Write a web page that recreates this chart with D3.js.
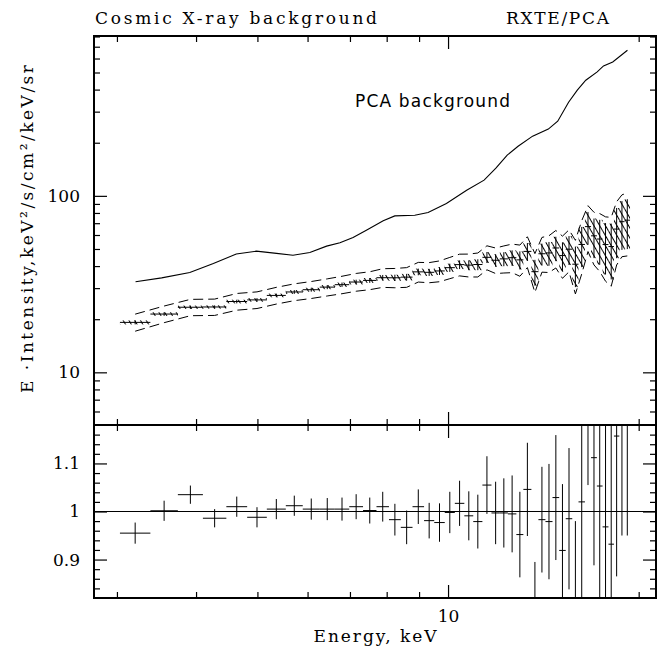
<!DOCTYPE html>
<html>
<head>
<meta charset="utf-8">
<script src="https://cdn.jsdelivr.net/npm/d3@7/dist/d3.min.js"></script>
<style>
	body { margin: 0; background: #fff; }
	text { font-family: "DejaVu Serif", "Liberation Serif", serif; fill: #000; }
</style>
</head>
<body>
<svg id="chart" width="669" height="652"></svg>
<script>
// energy bin boundaries, keV
var binEdges = [3.033, 3.388, 3.744, 4.101, 4.466, 4.817, 5.174, 5.544, 5.896, 6.272,
	6.624, 6.982, 7.341, 7.709, 8.067, 8.421, 8.788, 9.165, 9.511, 9.881,
	10.25, 10.61, 10.96, 11.33, 11.71, 12.07, 12.43, 12.82, 13.15, 13.54,
	13.89, 14.25, 14.62, 14.98, 15.34, 15.71, 16.07, 16.45, 16.82, 17.18,
	17.54, 17.92, 18.28, 18.64, 19.00, 19.38];

// E*Intensity, keV^2/s/cm^2/keV/sr, and its error
var intensity = [19.19, 21.39, 23.38, 23.46, 25.19, 25.73, 27.28, 28.54, 29.39, 30.40,
	31.38, 32.49, 33.18, 34.37, 34.34, 34.63, 37.09, 36.87, 37.54, 39.18,
	40.77, 40.51, 40.82, 44.84, 43.16, 43.94, 44.62, 43.38, 48.45, 37.19,
	46.98, 47.49, 50.66, 45.88, 49.86, 41.0, 53.05, 66.94, 59.37, 56.93,
	52.97, 51.61, 64.83, 71.40, 72.81];
var intensityErr = [0.5, 0.5, 0.5, 0.5, 0.6, 0.6, 0.65, 0.7, 0.75, 0.8,
	0.9, 1.0, 1.05, 1.25, 1.4, 1.5, 1.6, 1.7, 1.9, 2.1,
	2.3, 2.6, 2.9, 3.2, 3.5, 4.0, 4.5, 5.1, 5.6, 6.2,
	6.6, 7.3, 8.0, 8.6, 9.3, 10.6, 13.6, 14.1, 15.0, 16.2,
	17.1, 18.0, 20.5, 22.0, 22.9];
var sysFrac = 0.085;

// data / model
var ratio = [0.955, 1.0015, 1.035, 0.986, 1.010, 0.988, 1.005, 1.012, 1.005, 1.005,
	1.005, 1.010, 1.002, 1.010, 0.983, 0.967, 1.010, 0.981, 0.977, 0.998,
	1.017, 0.991, 0.979, 1.055, 0.997, 0.997, 0.995, 0.952, 1.046, 0.79,
	0.983, 0.979, 1.029, 0.919, 0.985, 0.80, 1.020, 1.27, 1.112, 1.053,
	0.968, 0.932, 1.157, 1.26, 1.27];
var ratioErr = [0.022, 0.021, 0.019, 0.019, 0.021, 0.021, 0.021, 0.021, 0.022, 0.023,
	0.024, 0.026, 0.027, 0.031, 0.033, 0.035, 0.036, 0.037, 0.040, 0.043,
	0.047, 0.051, 0.056, 0.060, 0.065, 0.072, 0.080, 0.089, 0.097, 0.105,
	0.11, 0.12, 0.13, 0.138, 0.147, 0.18, 0.21, 0.215, 0.224, 0.24,
	0.25, 0.26, 0.292, 0.31, 0.32];

// PCA background curve
var bgEnergy = [3.21, 3.53, 3.91, 4.26, 4.63, 4.98, 5.36, 5.69, 6.05, 6.43, 6.75, 7.08, 7.43,
	7.90, 8.24, 8.86, 9.30, 9.94, 10.7, 11.4, 11.9, 12.4, 12.9, 13.6, 14.4, 14.9,
	15.5, 16.0, 16.5, 17.2, 17.6, 18.2, 19.2];
var bgIntensity = [32.6, 34.3, 36.8, 41.4, 46.8, 48.6, 47.2, 46.1, 47.8, 51.9, 54.2, 58.1, 63.9,
	72.2, 77.0, 77.7, 80.5, 90.6, 107.7, 122.7, 143.5, 170, 191, 218, 239, 265,
	339, 397, 452, 504, 545, 574, 668];

var xMinor = [3, 4, 5, 6, 7, 8, 9, 20];
var xMajor = [10];
var yMinor = [6, 7, 8, 9, 20, 30, 40, 50, 60, 70, 80, 90, 200, 300, 400, 500, 600, 700, 800];
var yMajor = [10, 100];
var rMinor = [0.84, 0.86, 0.88, 0.92, 0.94, 0.96, 0.98, 1.02, 1.04, 1.06, 1.08, 1.12, 1.14, 1.16];
var rMajor = [0.9, 1.0, 1.1];

var L = 94, R = 656, T = 36, M = 425, B = 598;

var svg = d3.select('#chart');
var x = d3.scaleLog().domain([2.76, 21.3]).range([L, R]);
var y = d3.scaleLog().domain([5.03, 805]).range([M, T]);
var yr = d3.scaleLinear().domain([0.82, 1.18]).range([B, M]);

var bins = intensity.map(function (v, i) {
	return { lo: binEdges[i], hi: binEdges[i + 1], c: Math.sqrt(binEdges[i] * binEdges[i + 1]),
		v: v, e: intensityErr[i], r: ratio[i], re: ratioErr[i] };
});

var defs = svg.append('defs');
defs.append('clipPath').attr('id', 'clipTop')
	.append('rect').attr('x', L).attr('y', T).attr('width', R - L).attr('height', M - T);
defs.append('clipPath').attr('id', 'clipBot')
	.append('rect').attr('x', L).attr('y', M).attr('width', R - L).attr('height', B - M);
defs.append('pattern').attr('id', 'hatch')
	.attr('patternUnits', 'userSpaceOnUse').attr('width', 5).attr('height', 10)
	.attr('patternTransform', 'rotate(-30)')
	.append('line').attr('x1', 1).attr('y1', 0).attr('x2', 1).attr('y2', 10)
	.attr('stroke', '#000').attr('stroke-width', 1)
	.attr('shape-rendering', 'crispEdges');

// upper panel
var upper = svg.append('g').attr('clip-path', 'url(#clipTop)');

upper.selectAll('rect.box')
	.data(bins)
	.enter()
		.append('rect')
		.attr('class', 'box')
		.attr('x', function (d) { return x(d.lo); })
		.attr('width', function (d) { return x(d.hi) - x(d.lo); })
		.attr('y', function (d) { return y(d.v + d.e); })
		.attr('height', function (d) { return y(d.v - d.e) - y(d.v + d.e); })
		.attr('fill', 'url(#hatch)');

var dash = d3.line()
	.x(function (d) { return x(d.c); });
upper.append('path')
	.datum(bins)
	.attr('d', dash.y(function (d) { return y((d.v + d.e) * (1 + sysFrac)); }))
	.attr('fill', 'none').attr('stroke', '#000').attr('stroke-dasharray', '10,5');
upper.append('path')
	.datum(bins)
	.attr('d', dash.y(function (d) { return y((d.v - d.e) * (1 - sysFrac)); }))
	.attr('fill', 'none').attr('stroke', '#000').attr('stroke-dasharray', '10,5');

var cross = upper.selectAll('g.pt').data(bins).enter().append('g').attr('class', 'pt');
cross.append('line')
	.attr('x1', function (d) { return x(d.lo); })
	.attr('x2', function (d) { return x(d.hi); })
	.attr('y1', function (d) { return y(d.v); })
	.attr('y2', function (d) { return y(d.v); })
	.attr('stroke', '#000');
cross.append('line')
	.attr('x1', function (d) { return x(d.c); })
	.attr('x2', function (d) { return x(d.c); })
	.attr('y1', function (d) { return y(d.v - d.e); })
	.attr('y2', function (d) { return y(d.v + d.e); })
	.attr('stroke', '#000');

upper.append('path')
	.datum(bgEnergy.map(function (e, i) { return [e, bgIntensity[i]]; }))
	.attr('d', d3.line()
		.x(function (d) { return x(d[0]); })
		.y(function (d) { return y(d[1]); }))
	.attr('fill', 'none').attr('stroke', '#000').attr('stroke-width', 1.1);

svg.append('text')
	.attr('x', 355).attr('y', 107)
	.attr('textLength', 155)
	.style('font-family', '"DejaVu Sans", "Liberation Sans", sans-serif')
	.style('font-size', '17px')
	.text('PCA background');

// lower panel
var lower = svg.append('g').attr('clip-path', 'url(#clipBot)');
lower.append('line')
	.attr('x1', L).attr('x2', R).attr('y1', yr(1)).attr('y2', yr(1))
	.attr('stroke', '#000');
var rc = lower.selectAll('g.rpt').data(bins).enter().append('g').attr('class', 'rpt');
rc.append('line')
	.attr('x1', function (d) { return x(d.lo); })
	.attr('x2', function (d) { return x(d.hi); })
	.attr('y1', function (d) { return yr(d.r); })
	.attr('y2', function (d) { return yr(d.r); })
	.attr('stroke', '#000');
rc.append('line')
	.attr('x1', function (d) { return x(d.c); })
	.attr('x2', function (d) { return x(d.c); })
	.attr('y1', function (d) { return yr(d.r - d.re); })
	.attr('y2', function (d) { return yr(d.r + d.re); })
	.attr('stroke', '#000');

// ticks, drawn inward
function ticks(axis, pos, vals, size) {
	var g = svg.append('g').attr('transform', pos)
		.call(axis.tickValues(vals).tickSize(size).tickFormat(''));
	g.select('.domain').remove();
	g.selectAll('line').attr('stroke', '#000').attr('stroke-width', 1.2);
	return g;
}
[[xMinor, 6], [xMajor, 13]].forEach(function (t) {
	ticks(d3.axisTop(x), 'translate(0,' + T + ')', t[0], -t[1]);
	ticks(d3.axisBottom(x), 'translate(0,' + M + ')', t[0], -t[1]);
	ticks(d3.axisTop(x), 'translate(0,' + M + ')', t[0], -t[1]);
	ticks(d3.axisBottom(x), 'translate(0,' + B + ')', t[0], -t[1]);
});
[[yMinor, 6], [yMajor, 13]].forEach(function (t) {
	ticks(d3.axisLeft(y), 'translate(' + L + ',0)', t[0], -t[1]);
	ticks(d3.axisRight(y), 'translate(' + R + ',0)', t[0], -t[1]);
});
[[rMinor, 6], [rMajor, 13]].forEach(function (t) {
	ticks(d3.axisLeft(yr), 'translate(' + L + ',0)', t[0], -t[1]);
	ticks(d3.axisRight(yr), 'translate(' + R + ',0)', t[0], -t[1]);
});

// frame
svg.append('rect')
	.attr('x', L).attr('y', T).attr('width', R - L).attr('height', B - T)
	.attr('fill', 'none').attr('stroke', '#000').attr('stroke-width', 2);
svg.append('line')
	.attr('x1', L).attr('x2', R).attr('y1', M).attr('y2', M)
	.attr('stroke', '#000').attr('stroke-width', 2);

// tick labels
function labels(axis, pos, vals, fmt) {
	var g = svg.append('g').attr('transform', pos)
		.call(axis.tickValues(vals).tickSize(0).tickPadding(14).tickFormat(fmt));
	g.select('.domain').remove();
	g.selectAll('text').style('font-size', '17px').style('font-family', null);
}
labels(d3.axisLeft(y), 'translate(' + L + ',0)', yMajor, d3.format('d'));
labels(d3.axisLeft(yr), 'translate(' + L + ',0)', rMajor, function (d) { return d == 1 ? '1' : d3.format('.1f')(d); });
labels(d3.axisBottom(x), 'translate(0,' + (B - 2) + ')', xMajor, d3.format('d'));

// titles
svg.append('text').attr('x', 95).attr('y', 24).attr('textLength', 282)
	.style('font-size', '17px').text('Cosmic X-ray background');
svg.append('text').attr('x', 506).attr('y', 24).attr('textLength', 103)
	.style('font-size', '17px').text('RXTE/PCA');
svg.append('text').attr('x', 375).attr('y', 642).attr('text-anchor', 'middle').attr('textLength', 123)
	.style('font-size', '17px').text('Energy, keV');
svg.append('text')
	.attr('transform', 'translate(33,229) rotate(-90)')
	.attr('text-anchor', 'middle').attr('textLength', 328)
	.style('font-size', '17px').text('E ·Intensity,keV²/s/cm²/keV/sr');
</script>
</body>
</html>
